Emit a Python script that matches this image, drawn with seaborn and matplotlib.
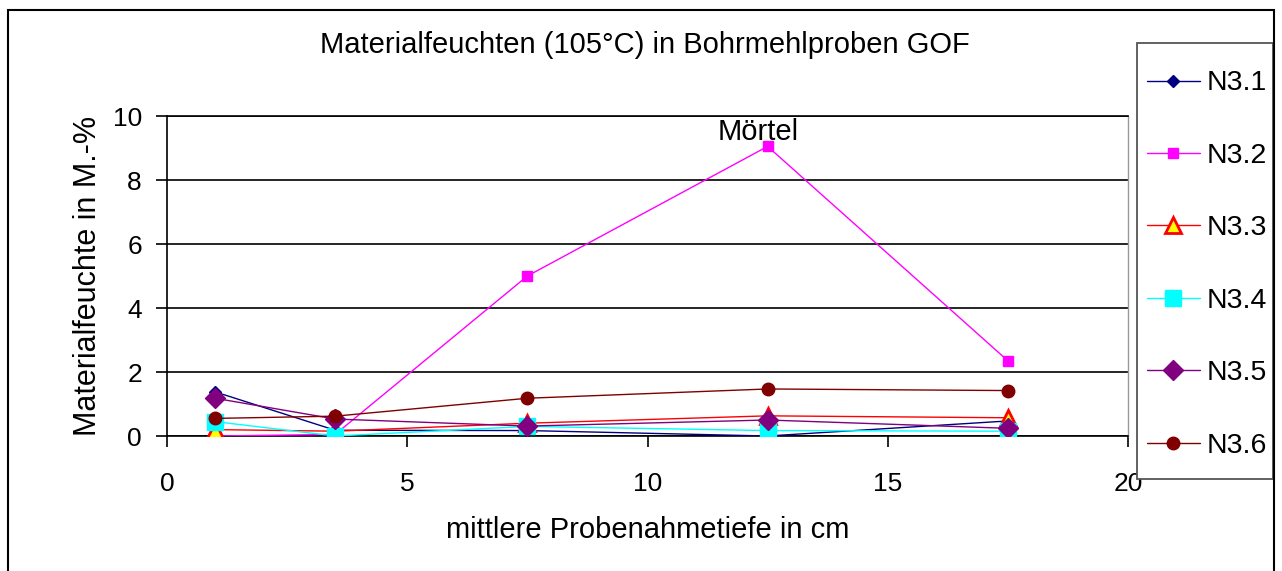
import matplotlib
matplotlib.use("Agg")
import matplotlib.pyplot as plt
import seaborn as sns
import pandas as pd
from matplotlib.patches import Rectangle

depth = [1, 3.5, 7.5, 12.5, 17.5]
n31 = [1.38, 0.18, 0.17, 0.0, 0.47]
n32 = [0.0, 0.05, 5.0, 9.05, 2.35]
n33 = [0.2, 0.15, 0.4, 0.63, 0.57]
n34 = [0.45, 0.0, 0.3, 0.17, 0.15]
n35 = [1.18, 0.53, 0.31, 0.5, 0.24]
n36 = [0.55, 0.62, 1.18, 1.47, 1.42]
names = ["N3.1", "N3.2", "N3.3", "N3.4", "N3.5", "N3.6"]
series = [n31, n32, n33, n34, n35, n36]

rows = []
for nm, vals in zip(names, series):
    for d, v in zip(depth, vals):
        rows.append({"Tiefe": d, "Wert": v, "Serie": nm})
df = pd.DataFrame(rows)

sns.set_theme(style="white")
plt.rcParams['font.family'] = ['Liberation Sans', 'DejaVu Sans']
plt.rcParams['text.color'] = 'black'
plt.rcParams['axes.labelcolor'] = 'black'
plt.rcParams['xtick.color'] = 'black'
plt.rcParams['ytick.color'] = 'black'

W, H = 1282, 571
fig = plt.figure(figsize=(W/100, H/100), dpi=100)
ax = fig.add_axes([167/W, 1-436/H, (1128-167)/W, (436-116)/H])

styles = {
    "N3.1": dict(color="#000080", marker="D", markersize=6, mfc="#000080", mec="#000080"),
    "N3.2": dict(color="#FF00FF", marker="s", markersize=7, mfc="#FF00FF", mec="#FF00FF"),
    "N3.3": dict(color="#FF0000", marker="^", markersize=11, mfc="#FFFF00", mec="#FF0000", mew=2),
    "N3.4": dict(color="#00FFFF", marker="s", markersize=12, mfc="#00FFFF", mec="#00FFFF"),
    "N3.5": dict(color="#800080", marker="D", markersize=10, mfc="#800080", mec="#800080"),
    "N3.6": dict(color="#800000", marker="o", markersize=9, mfc="#800000", mec="#800000"),
}

for nm in names:
    st = styles[nm]
    sub = df[df["Serie"] == nm]
    sns.lineplot(data=sub, x="Tiefe", y="Wert", ax=ax, label=nm, color=st["color"],
                 marker=st["marker"], markersize=st["markersize"],
                 markerfacecolor=st["mfc"], markeredgecolor=st["mec"],
                 markeredgewidth=st.get("mew", 1), linewidth=1.0, zorder=3)

ax.set_xlim(0, 20)
ax.set_ylim(0, 10)
ax.set_xticks([0, 5, 10, 15, 20])
ax.set_yticks([0, 2, 4, 6, 8, 10])
ax.yaxis.grid(True, color="black", linewidth=1.2)
ax.xaxis.grid(False)
ax.set_axisbelow(True)
for s in ["left", "bottom", "top"]:
    ax.spines[s].set_color("black")
    ax.spines[s].set_linewidth(1.2)
ax.spines["right"].set_color("#999999")
ax.spines["right"].set_linewidth(1.0)
ax.tick_params(axis="both", direction="out", length=8, width=1.2, color="black",
               labelsize=19, left=True, bottom=True, labelcolor="black")
ax.tick_params(axis="x", pad=18)
ax.tick_params(axis="y", pad=10)

ax.set_xlabel("mittlere Probenahmetiefe in cm", fontsize=21)
ax.xaxis.set_label_coords(0.5, (436-530)/320)
ax.xaxis.label.set_va("center")
ax.set_ylabel("Materialfeuchte in M.-%", fontsize=22)
ax.yaxis.set_label_coords((88-167)/961, 0.5)
ax.yaxis.label.set_va("center")
fig.text(645/W, 1-45/H, "Materialfeuchten (105°C) in Bohrmehlproben GOF",
         ha="center", va="center", fontsize=21)
ax.text(12.3, 9.5, "Mörtel", ha="center", va="center", fontsize=21)

handles, labels = ax.get_legend_handles_labels()
ax.get_legend().remove()
fs = 20.5
leg = fig.legend(handles, labels, loc="upper left",
                 bbox_to_anchor=(1147/W, 1-(87-0.58*fs/0.72)/H),
                 bbox_transform=fig.transFigure, fontsize=fs, frameon=False,
                 labelspacing=1.63, handlelength=1.86, handletextpad=0.25,
                 borderpad=0, borderaxespad=0)
leg.set_zorder(3)

fig.patches.append(Rectangle((1137/W, 1-479/H), (1273-1137)/W, (479-43)/H,
                             transform=fig.transFigure, fill=True, facecolor="white",
                             edgecolor="#555555", linewidth=1.3, zorder=2))
fig.patches.append(Rectangle((8/W, -0.05), (1274-8)/W, 1.05-10/H,
                             transform=fig.transFigure, fill=False,
                             edgecolor="black", linewidth=1.5, zorder=2))

fig.savefig("out.png", dpi=100)
